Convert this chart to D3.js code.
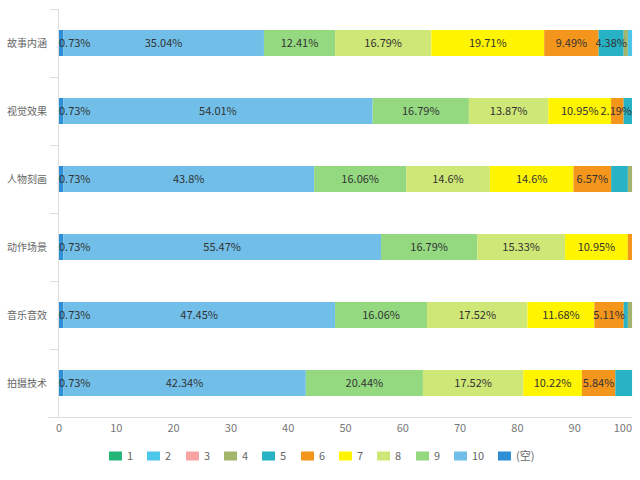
<!DOCTYPE html>
<html><head><meta charset="utf-8">
<script src="https://cdn.jsdelivr.net/npm/d3@7"></script>
<style>body{margin:0;background:#fff}svg{display:block}</style>
</head><body><svg id="c" width="640" height="480"></svg>
<script>
const categories = ["故事内涵","视觉效果","人物刻画","动作场景","音乐音效","拍摄技术"];
const seriesNames = ["(空)","10","9","8","7","6","5","4","3","2","1"];
const legendOrder = ["1","2","3","4","5","6","7","8","9","10","(空)"];
const colors = {"1":"#27b67a","2":"#4ec6ea","3":"#f7a3a3","4":"#a3b56b","5":"#27b2c5","6":"#f5961c","7":"#fff500","8":"#cfe776","9":"#94d980","10":"#71bfe9","(空)":"#2f8fd6"};
// values per series, in category order
const vEmpty = [0.73,0.73,0.73,0.73,0.73,0.73];
const v10 = [35.04,54.01,43.8,55.47,47.45,42.34];
const v9  = [12.41,16.79,16.06,16.79,16.06,20.44];
const v8  = [16.79,13.87,14.6,15.33,17.52,17.52];
const v7  = [19.71,10.95,14.6,10.95,11.68,10.22];
const v6  = [9.49,2.19,6.57,0.73,5.11,5.84];
const v5  = [4.38,1.46,2.92,0,0.73,2.92];
const v4  = [0.73,0,0.73,0,0.73,0];
const v3  = [0,0,0,0,0,0];
const v2  = [0.73,0,0,0,0,0];
const v1  = [0,0,0,0,0,0];
const xTicks = [0,10,20,30,40,50,60,70,80,90,100];

const seriesVals = {"(空)":vEmpty,"10":v10,"9":v9,"8":v8,"7":v7,"6":v6,"5":v5,"4":v4,"3":v3,"2":v2,"1":v1};
const rows = categories.map((c,i)=>{const o={cat:c};seriesNames.forEach(s=>o[s]=seriesVals[s][i]);return o;});
const stack = d3.stack().keys(seriesNames)(rows);

const svg = d3.select("#c");
const L=59, R=632, T=9, B=417;
const x = d3.scaleLinear().domain([0,100]).range([L,R]);
const y = d3.scaleBand().domain(categories).range([T,B]);
const barH = 26;
const font = "'Noto Sans CJK SC','Noto Sans',sans-serif";

// axes
svg.append("line").attr("x1",L-0.5).attr("x2",L-0.5).attr("y1",T).attr("y2",B).attr("stroke","#ddd");
svg.append("line").attr("x1",48).attr("x2",R).attr("y1",B+0.5).attr("y2",B+0.5).attr("stroke","#ddd");
const bounds = categories.map(c=>y(c)).concat([B]);
svg.selectAll(".yt").data(bounds).enter().append("line")
  .attr("x1",50).attr("x2",L).attr("y1",d=>Math.round(d)+0.5).attr("y2",d=>Math.round(d)+0.5).attr("stroke","#ddd");
svg.selectAll(".yl").data(categories).enter().append("text")
  .attr("x",47).attr("y",d=>y(d)+y.bandwidth()/2).attr("dy","0.35em")
  .attr("text-anchor","end").attr("font-size",10).attr("font-family",font).attr("fill","#666").text(d=>d);
svg.selectAll(".xl").data(xTicks).enter().append("text")
  .attr("x",d=>d===100?R:x(d)).attr("y",428).attr("dy","0.35em")
  .attr("text-anchor",d=>d===100?"end":"middle").attr("font-size",11).attr("font-family",font).attr("fill","#777").text(d=>d);

// bars
const g = svg.append("g");
stack.forEach(layer=>{
  g.selectAll(null).data(layer).enter().append("rect")
    .attr("x",d=>x(d[0])).attr("width",d=>Math.max(0,x(d[1])-x(d[0])))
    .attr("y",d=>y(d.data.cat)+y.bandwidth()/2-barH/2).attr("height",barH)
    .attr("fill",colors[layer.key]);
});

// labels with overlap hiding
const lg = svg.append("g");
categories.forEach((c,i)=>{
  let lastRight=-Infinity;
  stack.forEach(layer=>{
    const d=layer[i]; const v=d[1]-d[0];
    if(v<=0) return;
    const t=lg.append("text").attr("font-size",11).attr("font-family",font).attr("fill","#333")
      .attr("y",y(c)+y.bandwidth()/2).attr("dy","0.35em").text(seriesVals[layer.key][i]+"%");
    const w=t.node().getComputedTextLength();
    let left=(x(d[0])+x(d[1]))/2-w/2;
    if(left<L) left=L;
    if(left+w>R) left=R-w;
    if(left<lastRight){t.remove();return;}
    t.attr("x",left);
    lastRight=left+w;
  });
});

// legend
const lx = [109,147,186,224,262,301,339,377,416,454,498];
const leg = svg.selectAll(".lg").data(legendOrder).enter().append("g")
  .attr("transform",(d,i)=>`translate(${lx[i]},456)`);
leg.append("rect").attr("x",0).attr("y",-4.5).attr("width",13).attr("height",9).attr("fill",d=>colors[d]);
leg.append("text").attr("x",18).attr("dy","0.35em").attr("font-size",11).attr("font-family",font).attr("fill","#666").text(d=>d);
</script></body></html>
